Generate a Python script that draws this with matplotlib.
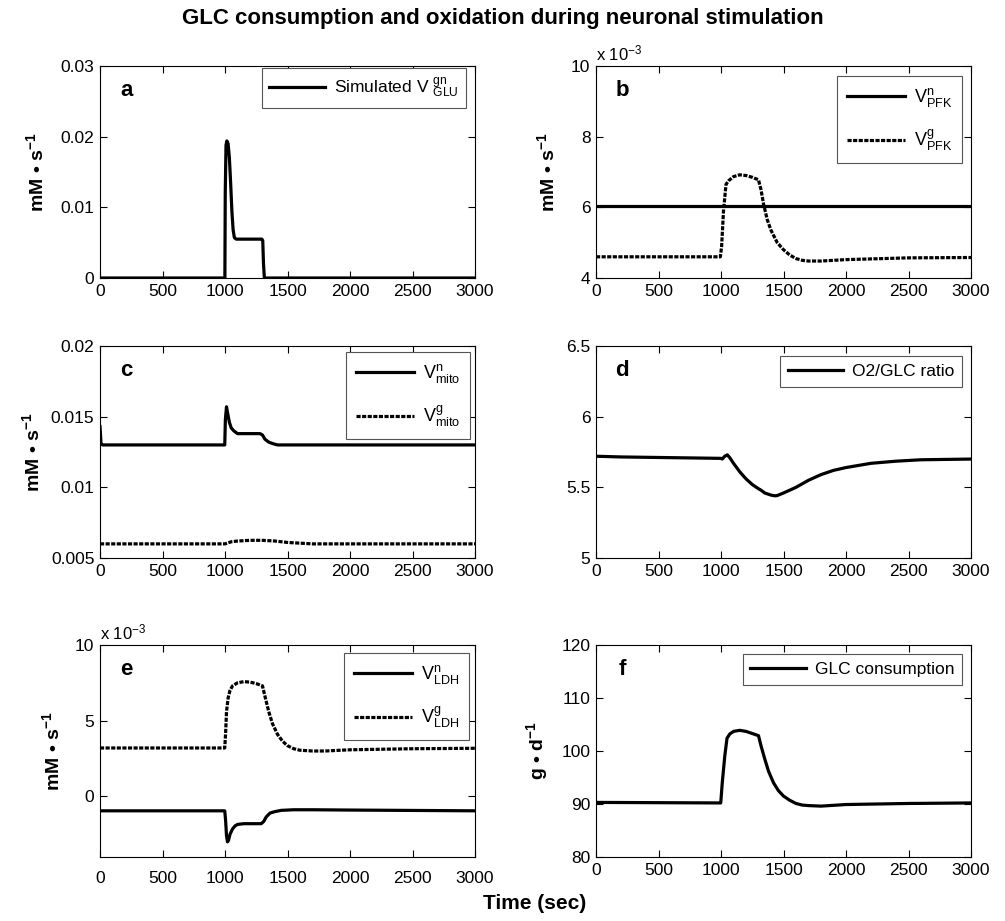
"""
GLC consumption and oxidation during neuronal stimulation (6 panels).
"""

import matplotlib
matplotlib.use("Agg")
import matplotlib.pyplot as plt
from matplotlib.ticker import FuncFormatter

plt.rcParams.update({
    "font.family": ["Liberation Sans", "DejaVu Sans"],
    "font.size": 12,
    "mathtext.fontset": "custom",
    "mathtext.rm": "Liberation Sans",
    "mathtext.it": "Liberation Sans:italic",
    "mathtext.bf": "Liberation Sans:bold",
    "mathtext.default": "regular",
    "axes.linewidth": 0.8,
    "xtick.direction": "in",
    "ytick.direction": "in",
    "xtick.top": True,
    "ytick.right": True,
    "xtick.major.size": 5,
    "ytick.major.size": 5,
})

# ---- data (time in sec) ----
a_t = [0, 999, 1002, 1008, 1015, 1025, 1035, 1045, 1055, 1065, 1075, 1090, 1295, 1302, 1308, 1315, 3000]
a_glu = [0, 0, 0.012, 0.0188, 0.0194, 0.019, 0.017, 0.0135, 0.0095, 0.0068, 0.0057, 0.0055,
         0.0055, 0.0053, 0.002, 0, 0]

b_n_t = [0, 3000]
b_pfk_n = [6.04e-3, 6.04e-3]
b_g_t = [0, 995, 1005, 1020, 1040, 1060, 1100, 1150, 1200, 1250, 1300, 1320, 1340, 1370, 1400,
         1450, 1500, 1550, 1600, 1650, 1700, 1800, 2000, 2500, 3000]
b_pfk_g = [4.60e-3, 4.60e-3, 4.9e-3, 5.9e-3, 6.65e-3, 6.75e-3, 6.87e-3, 6.92e-3, 6.9e-3, 6.85e-3,
           6.78e-3, 6.5e-3, 6.1e-3, 5.65e-3, 5.35e-3, 5.0e-3, 4.8e-3, 4.65e-3, 4.55e-3, 4.5e-3,
           4.48e-3, 4.48e-3, 4.52e-3, 4.57e-3, 4.58e-3]

c_n_t = [0, 8, 20, 998, 1003, 1012, 1020, 1035, 1050, 1070, 1100, 1150, 1280, 1300, 1320, 1350,
         1380, 1420, 1500, 3000]
c_mito_n = [0.0143, 0.0131, 0.0130, 0.0130, 0.0148, 0.0157, 0.0153, 0.0146, 0.0142, 0.0140,
            0.0138, 0.0138, 0.0138, 0.0137, 0.0134, 0.0132, 0.0131, 0.0130, 0.0130, 0.0130]
c_g_t = [0, 1000, 1050, 1100, 1200, 1300, 1400, 1500, 1600, 1700, 3000]
c_mito_g = [0.0060, 0.0060, 0.00615, 0.0062, 0.00625, 0.00625, 0.0062, 0.0061, 0.00605, 0.0060, 0.0060]

d_t = [0, 200, 1000, 1010, 1030, 1050, 1070, 1100, 1150, 1200, 1250, 1300, 1320, 1350, 1400, 1430,
       1450, 1500, 1600, 1700, 1800, 1900, 2000, 2200, 2400, 2600, 3000]
d_ratio = [5.72, 5.715, 5.705, 5.70, 5.72, 5.73, 5.71, 5.67, 5.61, 5.56, 5.52, 5.49, 5.48, 5.46,
           5.445, 5.44, 5.442, 5.46, 5.50, 5.55, 5.59, 5.62, 5.64, 5.67, 5.685, 5.695, 5.70]

e_n_t = [0, 998, 1005, 1012, 1020, 1028, 1040, 1060, 1080, 1100, 1150, 1290, 1310, 1330, 1360,
         1400, 1450, 1550, 1700, 2000, 3000]
e_ldh_n = [-0.95e-3, -0.95e-3, -1.6e-3, -2.6e-3, -3.0e-3, -2.9e-3, -2.5e-3, -2.15e-3, -1.95e-3,
           -1.85e-3, -1.8e-3, -1.8e-3, -1.65e-3, -1.35e-3, -1.1e-3, -1.0e-3, -0.92e-3, -0.88e-3,
           -0.88e-3, -0.9e-3, -0.95e-3]
e_g_t = [0, 998, 1005, 1012, 1025, 1040, 1060, 1100, 1150, 1200, 1250, 1300, 1320, 1350, 1380,
         1420, 1460, 1500, 1550, 1600, 1700, 1800, 2000, 2500, 3000]
e_ldh_g = [3.2e-3, 3.2e-3, 4.2e-3, 5.6e-3, 6.5e-3, 7.0e-3, 7.3e-3, 7.5e-3, 7.58e-3, 7.55e-3,
           7.45e-3, 7.3e-3, 6.6e-3, 5.6e-3, 4.8e-3, 4.1e-3, 3.65e-3, 3.35e-3, 3.15e-3, 3.05e-3,
           3.0e-3, 3.0e-3, 3.08e-3, 3.15e-3, 3.18e-3]

f_t = [0, 998, 1010, 1030, 1048, 1070, 1100, 1150, 1200, 1250, 1300, 1320, 1350, 1380, 1420, 1460,
       1500, 1550, 1600, 1650, 1700, 1800, 2000, 2500, 3000]
f_glc = [90.3, 90.2, 94, 99, 102.4, 103.2, 103.7, 103.9, 103.7, 103.3, 102.9, 101, 98.5, 96.2, 94,
         92.5, 91.5, 90.7, 90.1, 89.8, 89.7, 89.6, 89.9, 90.1, 90.2]

LW = 2.3
DASH = (0, (1.3, 0.45))
YLAB = "mM • s$^{\\mathbf{-1}}$"
YLAB_SIZE = 14

fig = plt.figure(figsize=(10.05, 9.21), dpi=100)
W, H = 1005, 921


def make_ax(left, top):
    w = 375
    h = 212
    return fig.add_axes([left / W, 1 - (top + h) / H, w / W, h / H])


ax_a = make_ax(100, 66)
ax_b = make_ax(596, 66)
ax_c = make_ax(100, 346)
ax_d = make_ax(596, 346)
ax_e = make_ax(100, 645)
ax_f = make_ax(596, 645)

for ax in [ax_a, ax_b, ax_c, ax_d, ax_e, ax_f]:
    ax.set_xlim(0, 3000)
    ax.set_xticks([0, 500, 1000, 1500, 2000, 2500, 3000])
    ax.tick_params(labelsize=12.5, pad=4)


def legend(ax, x, y, size=13, spacing=1.05, pad=0.55):
    leg = ax.legend(loc="upper right", bbox_to_anchor=(x, y), borderaxespad=0,
                    fontsize=size, handlelength=3.2, fancybox=False, framealpha=1,
                    edgecolor="#555555", labelspacing=spacing, borderpad=pad, handletextpad=0.5)
    leg.get_frame().set_linewidth(0.8)


def letter(ax, s):
    ax.text(0.07, 0.885, s, transform=ax.transAxes, fontsize=16, fontweight="bold",
            ha="center", va="center")


sci = FuncFormatter(lambda v, p: f"{v * 1e3:g}")

# a
ax_a.plot(a_t, a_glu, color="black", lw=LW, label=r"Simulated V $^{gn}_{GLU}$")
ax_a.set_ylim(0, 0.03)
ax_a.set_yticks([0, 0.01, 0.02, 0.03])
ax_a.set_yticklabels(["0", "0.01", "0.02", "0.03"])
ax_a.set_ylabel(YLAB, fontweight="bold", fontsize=YLAB_SIZE)
ax_a.yaxis.set_label_coords(-0.141, 0.5)
letter(ax_a, "a")
legend(ax_a, 0.976, 0.99, size=12.5, pad=0.45)

# b
ax_b.plot(b_n_t, b_pfk_n, color="black", lw=LW, label=r"V$^{n}_{PFK}$")
ax_b.plot(b_g_t, b_pfk_g, color="black", lw=LW, ls=DASH, label=r"V$^{g}_{PFK}$")
ax_b.set_ylim(4e-3, 10e-3)
ax_b.set_yticks([4e-3, 6e-3, 8e-3, 10e-3])
ax_b.yaxis.set_major_formatter(sci)
ax_b.text(0.0, 1.01, r"x 10$^{-3}$", transform=ax_b.transAxes, fontsize=12, va="bottom")
ax_b.set_ylabel(YLAB, fontweight="bold", fontsize=YLAB_SIZE)
ax_b.yaxis.set_label_coords(-0.101, 0.5)
letter(ax_b, "b")
legend(ax_b, 0.976, 0.953)

# c
ax_c.plot(c_n_t, c_mito_n, color="black", lw=LW, label=r"V$^{n}_{mito}$")
ax_c.plot(c_g_t, c_mito_g, color="black", lw=LW, ls=DASH, label=r"V$^{g}_{mito}$")
ax_c.set_ylim(0.005, 0.02)
ax_c.set_yticks([0.005, 0.01, 0.015, 0.02])
ax_c.set_yticklabels(["0.005", "0.01", "0.015", "0.02"])
ax_c.set_ylabel(YLAB, fontweight="bold", fontsize=YLAB_SIZE)
ax_c.yaxis.set_label_coords(-0.152, 0.5)
letter(ax_c, "c")
legend(ax_c, 0.987, 0.972)

# d
ax_d.plot(d_t, d_ratio, color="black", lw=LW, label="O2/GLC ratio")
ax_d.set_ylim(5, 6.5)
ax_d.set_yticks([5, 5.5, 6, 6.5])
ax_d.set_yticklabels(["5", "5.5", "6", "6.5"])
letter(ax_d, "d")
legend(ax_d, 0.976, 0.953, size=12.5, pad=0.45)

# e
ax_e.plot(e_n_t, e_ldh_n, color="black", lw=LW, label=r"V$^{n}_{LDH}$")
ax_e.plot(e_g_t, e_ldh_g, color="black", lw=LW, ls=DASH, label=r"V$^{g}_{LDH}$")
ax_e.set_ylim(-4e-3, 10e-3)
ax_e.set_yticks([0, 5e-3, 10e-3])
ax_e.yaxis.set_major_formatter(sci)
ax_e.text(0.0, 1.01, r"x 10$^{-3}$", transform=ax_e.transAxes, fontsize=12, va="bottom")
ax_e.set_ylabel(YLAB, fontweight="bold", fontsize=YLAB_SIZE)
ax_e.yaxis.set_label_coords(-0.099, 0.5)
ax_e.tick_params(axis="x", pad=10)
letter(ax_e, "e")
legend(ax_e, 0.984, 0.962)

# f
ax_f.plot(f_t, f_glc, color="black", lw=LW, label="GLC consumption")
ax_f.set_ylim(80, 120)
ax_f.set_yticks([80, 90, 100, 110, 120])
ax_f.set_ylabel("g • d$^{\\mathbf{-1}}$", fontweight="bold", fontsize=YLAB_SIZE)
ax_f.yaxis.set_label_coords(-0.123, 0.5)
letter(ax_f, "f")
legend(ax_f, 0.976, 0.958, size=12.5, pad=0.45)

fig.text(0.5, 0.980, "GLC consumption and oxidation during neuronal stimulation",
         ha="center", va="center", fontsize=16, fontweight="bold")
fig.text(0.532, 0.0195, "Time (sec)", ha="center", va="center", fontsize=15, fontweight="bold")

fig.savefig("out.png", dpi=100)
